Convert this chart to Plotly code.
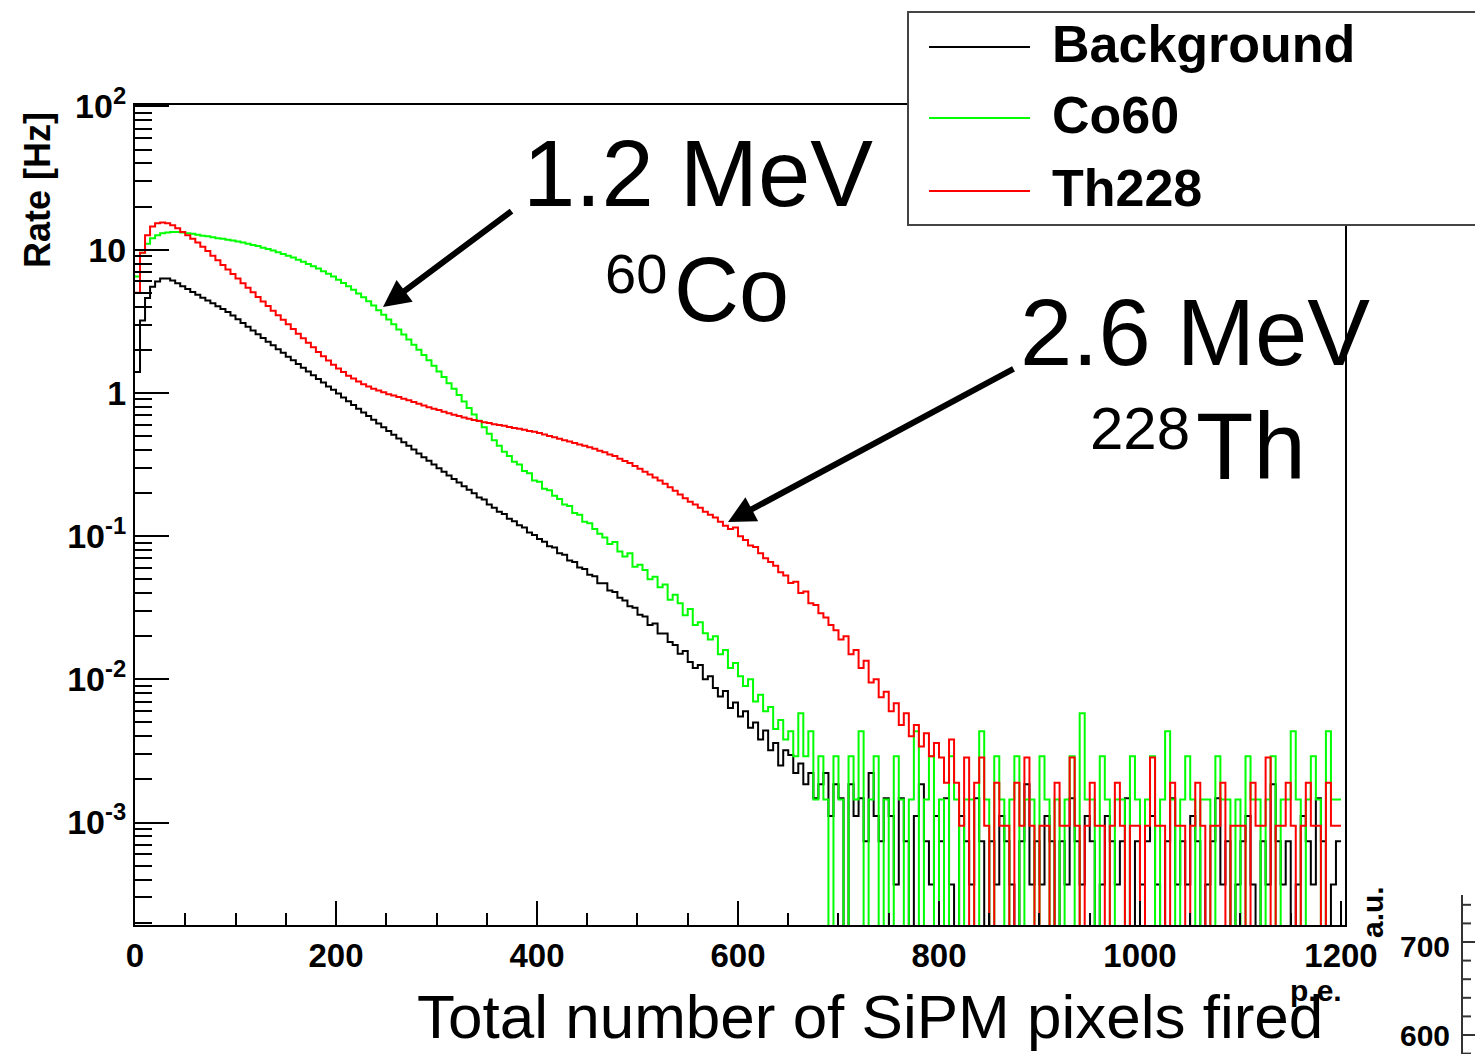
import numpy as np
import plotly.graph_objects as go

# ---------------- data ----------------
BIN_WIDTH = 5          # p.e. per bin
X_MIN, X_MAX = 0, 1200

# Background: rates [Hz] for bins 0..129 (0-650 p.e.)
bg_body = [
    1.4, 3.2, 4.6, 5.5, 6.0, 6.3, 6.3, 6.1, 5.82, 5.56,
    5.31, 5.07, 4.84, 4.62, 4.42, 4.22, 4.03, 3.85, 3.67, 3.47,
    3.27, 3.08, 2.90, 2.73, 2.57, 2.42, 2.28, 2.15, 2.02, 1.91,
    1.79, 1.69, 1.59, 1.50, 1.41, 1.33, 1.25, 1.18, 1.11, 1.05,
    0.99, 0.93, 0.875, 0.824, 0.776, 0.731, 0.689, 0.649, 0.611, 0.575,
    0.542, 0.511, 0.481, 0.453, 0.427, 0.402, 0.378, 0.356, 0.336, 0.316,
    0.298, 0.281, 0.265, 0.251, 0.237, 0.223, 0.211, 0.199, 0.186, 0.180,
    0.166, 0.158, 0.148, 0.143, 0.132, 0.127, 0.119, 0.115, 0.106, 0.102,
    0.0955, 0.0912, 0.0851, 0.0832, 0.0759, 0.0741, 0.0676, 0.0661, 0.0603, 0.0589,
    0.0537, 0.0525, 0.0468, 0.0468, 0.0417, 0.0407, 0.0372, 0.0355, 0.0324, 0.0316,
    0.0282, 0.0275, 0.0240, 0.0245, 0.0209, 0.0209, 0.0182, 0.0174, 0.0151, 0.0158,
    0.0132, 0.0120, 0.0126, 0.0100, 0.0105, 0.0087, 0.0076, 0.0083, 0.0063, 0.0069,
    0.0055, 0.0060, 0.0046, 0.0050, 0.0038, 0.0044, 0.0032, 0.0036, 0.0025, 0.0032,
]
# Background tail: counts per bin for bins 130..239 (650-1200 p.e.)
bg_tail_counts = [
    8, 6, 7, 5, 6, 4, 5, 6, 3, 5,
    4, 0, 5, 3, 4, 2, 6, 3, 2, 4,
    3, 1, 4, 2, 0, 3, 5, 2, 1, 3,
    2, 4, 1, 0, 3, 2, 1, 4, 2, 0,
    2, 1, 3, 2, 1, 0, 2, 5, 1, 2,
    1, 3, 2, 0, 2, 1, 4, 2, 1, 3,
    2, 0, 1, 3, 2, 1, 2, 4, 0, 2,
    1, 2, 3, 1, 0, 2, 4, 1, 2, 1,
    3, 2, 0, 1, 2, 4, 1, 2, 0, 1,
    2, 3, 1, 0, 2, 1, 5, 2, 1, 2,
    0, 1, 3, 2, 1, 4, 2, 0, 1, 2,
]
bg_unit = 3.7e-4   # Hz per count

# Co60: rates [Hz] for bins 0..129
co_body = [
    6.5, 9.5, 11.0, 12.0, 12.6, 13.0, 13.2, 13.3, 13.3, 13.2,
    13.0, 12.9, 12.7, 12.5, 12.4, 12.2, 12.0, 11.9, 11.75, 11.6,
    11.4, 11.2, 11.0, 10.8, 10.6, 10.3, 10.1, 9.85, 9.6, 9.33,
    9.08, 8.81, 8.51, 8.22, 7.94, 7.66, 7.38, 7.08, 6.79, 6.49,
    6.17, 5.86, 5.56, 5.25, 4.95, 4.66, 4.37, 4.07, 3.78, 3.51,
    3.25, 3.01, 2.77, 2.56, 2.36, 2.17, 2.0, 1.84, 1.69, 1.55,
    1.41, 1.29, 1.17, 1.07, 0.966, 0.871, 0.785, 0.708, 0.638, 0.575,
    0.519, 0.468, 0.427, 0.389, 0.363, 0.331, 0.316, 0.285, 0.275, 0.245,
    0.240, 0.214, 0.209, 0.191, 0.182, 0.166, 0.162, 0.145, 0.141, 0.126,
    0.123, 0.112, 0.104, 0.098, 0.088, 0.091, 0.078, 0.072, 0.076, 0.061,
    0.063, 0.058, 0.050, 0.052, 0.044, 0.046, 0.036, 0.039, 0.034, 0.028,
    0.031, 0.024, 0.025, 0.021, 0.019, 0.020, 0.015, 0.016, 0.012, 0.013,
    0.0105, 0.0090, 0.0100, 0.0070, 0.0078, 0.0060, 0.0064, 0.0045, 0.0052, 0.0038,
]
co_tail_counts = [
    3, 2, 4, 2, 3, 1, 2, 1, 0, 2,
    1, 0, 2, 1, 3, 0, 1, 2, 0, 1,
    0, 2, 1, 0, 1, 3, 0, 1, 2, 0,
    1, 0, 2, 1, 0, 1, 1, 0, 3, 1,
    0, 2, 1, 0, 1, 2, 0, 1, 1, 0,
    2, 1, 0, 1, 0, 1, 2, 0, 4, 1,
    1, 0, 2, 1, 0, 1, 1, 0, 2, 1,
    0, 1, 2, 0, 1, 3, 1, 0, 1, 2,
    1, 0, 1, 1, 0, 2, 1, 1, 0, 1,
    0, 2, 1, 1, 0, 1, 2, 0, 1, 1,
    3, 1, 0, 1, 2, 1, 0, 3, 1, 1,
]
co_unit = 1.45e-3

# Th228: rates [Hz] for bins 0..159 (0-800 p.e.)
th_body = [
    5.0, 9.5, 12.6, 14.5, 15.3, 15.5, 15.3, 14.8, 14.1, 13.3,
    12.6, 11.9, 11.2, 10.5, 9.77, 9.08, 8.43, 7.83, 7.28, 6.76,
    6.28, 5.83, 5.42, 5.04, 4.68, 4.35, 4.04, 3.75, 3.48, 3.24,
    3.01, 2.79, 2.59, 2.41, 2.24, 2.08, 1.93, 1.80, 1.68, 1.57,
    1.48, 1.40, 1.32, 1.26, 1.20, 1.15, 1.11, 1.07, 1.04, 1.01,
    0.98, 0.96, 0.938, 0.912, 0.887, 0.863, 0.839, 0.817, 0.794, 0.776,
    0.759, 0.738, 0.721, 0.705, 0.689, 0.673, 0.661, 0.646, 0.637, 0.624,
    0.617, 0.605, 0.596, 0.589, 0.578, 0.569, 0.562, 0.552, 0.543, 0.535,
    0.525, 0.513, 0.501, 0.490, 0.479, 0.468, 0.457, 0.447, 0.437, 0.427,
    0.417, 0.407, 0.394, 0.385, 0.372, 0.363, 0.347, 0.335, 0.324, 0.309,
    0.295, 0.282, 0.269, 0.257, 0.245, 0.232, 0.219, 0.207, 0.195, 0.184,
    0.174, 0.166, 0.158, 0.148, 0.141, 0.135, 0.126, 0.118, 0.112, 0.115,
    0.100, 0.094, 0.086, 0.084, 0.076, 0.070, 0.066, 0.062, 0.056, 0.053,
    0.047, 0.048, 0.040, 0.041, 0.034, 0.033, 0.029, 0.027, 0.024, 0.022,
    0.019, 0.020, 0.015, 0.016, 0.012, 0.0135, 0.0095, 0.010, 0.0075, 0.0082,
    0.0060, 0.0068, 0.0048, 0.0058, 0.0040, 0.0048, 0.0034, 0.0042, 0.0029, 0.0036,
]
th_tail_counts = [
    3, 2, 4, 2, 1, 3, 0, 2, 3, 1,
    0, 2, 1, 1, 0, 2, 1, 3, 1, 0,
    1, 1, 0, 2, 1, 1, 3, 1, 0, 1,
    2, 1, 1, 0, 1, 2, 1, 0, 1, 1,
    0, 1, 3, 1, 1, 0, 2, 1, 1, 0,
    1, 2, 1, 0, 1, 1, 2, 0, 1, 1,
    1, 0, 2, 1, 1, 3, 0, 1, 1, 2,
    1, 0, 1, 2, 1, 1, 0, 2, 1, 1,
]
th_unit = 9.5e-4

series_names = ["Background", "Co60", "Th228"]
series_colors = ["#000000", "#00ff00", "#ff0000"]

x_tick_vals = [0, 200, 400, 600, 800, 1000, 1200]
y_tick_vals = [1e-3, 1e-2, 1e-1, 1, 10, 100]
y_tick_text = ["10<sup>-3</sup>", "10<sup>-2</sup>", "10<sup>-1</sup>", "1", "10", "10<sup>2</sup>"]

# ---------------- build ----------------
edges = np.arange(X_MIN, X_MAX + BIN_WIDTH, BIN_WIDTH)
n_bins = len(edges) - 1

def full_rates(body, tail_counts, unit):
    r = list(body) + [c * unit for c in tail_counts]
    assert len(r) == n_bins, len(r)
    return r

rates = [
    full_rates(bg_body, bg_tail_counts, bg_unit),
    full_rates(co_body, co_tail_counts, co_unit),
    full_rates(th_body, th_tail_counts, th_unit),
]

FLOOR = 1e-7  # empty bins fall below the frame, like ROOT

fig = go.Figure()
for name, col, r in zip(series_names, series_colors, rates):
    y = [v if v > 0 else FLOOR for v in r]
    xs = list(edges[:-1]) + [edges[-1]]
    ys = y + [y[-1]]
    fig.add_trace(go.Scatter(x=xs, y=ys, mode="lines", name=name,
                             line=dict(color=col, width=2, shape="hv"),
                             showlegend=False))

W, H = 1475, 1054
L, R, T, B = 135, 130, 105, 129
PW, PH = W - L - R, H - T - B

def px(xp):
    return (xp - L) / PW

def py(yp):
    return (H - B - yp) / PH

FONT = "Liberation Sans, Arial, Helvetica, sans-serif"

minor_y = [m * 10.0 ** e for e in range(-4, 2) for m in range(2, 10)]

fig.update_layout(
    width=W, height=H, autosize=False,
    margin=dict(l=L, r=R, t=T, b=B),
    paper_bgcolor="white", plot_bgcolor="white",
    font=dict(family=FONT, color="black"),
    xaxis=dict(range=[0, 1204], tickmode="array", tickvals=x_tick_vals,
               ticks="inside", ticklen=24, tickwidth=2, tickcolor="black",
               showline=True, linecolor="black", linewidth=2, mirror=True,
               showgrid=False, zeroline=False,
               tickfont=dict(family=FONT, size=33, weight="bold"),
               minor=dict(tickmode="linear", tick0=0, dtick=50, ticks="inside",
                          ticklen=12, tickwidth=2, tickcolor="black", showgrid=False)),
    yaxis=dict(type="log", range=[-3.715, 2.01], tickmode="array",
               tickvals=y_tick_vals, ticktext=y_tick_text,
               ticks="inside", ticklen=34, tickwidth=2, tickcolor="black",
               showline=True, linecolor="black", linewidth=2, mirror=True,
               showgrid=False, zeroline=False,
               tickfont=dict(family=FONT, size=34, weight="bold"),
               minor=dict(tickmode="array", tickvals=minor_y, ticks="inside",
                          ticklen=17, tickwidth=2, tickcolor="black", showgrid=False)),
)

shapes = []
annotations = []

# legend box (manual, ROOT style)
shapes.append(dict(type="rect", xref="paper", yref="paper",
                   x0=px(908), x1=px(1490), y0=py(225), y1=py(12),
                   line=dict(color="#444444", width=2), fillcolor="white", layer="above"))
leg_rows = [47, 118, 191]
for name, col, yy in zip(series_names, series_colors, leg_rows):
    shapes.append(dict(type="line", xref="paper", yref="paper",
                       x0=px(929), x1=px(1030), y0=py(yy), y1=py(yy),
                       line=dict(color=col, width=2), layer="above"))
    annotations.append(dict(text=name, xref="paper", yref="paper",
                            x=px(1050), y=py(yy - 3), xanchor="left", yanchor="middle",
                            showarrow=False,
                            font=dict(family=FONT, size=52, weight="bold", color="black")))

# y-axis title
annotations.append(dict(text="Rate [Hz]", xref="paper", yref="paper",
                        x=px(37), y=py(190), xanchor="center", yanchor="middle",
                        textangle=-90, showarrow=False,
                        font=dict(family=FONT, size=36, weight="bold")))

# x-axis title
annotations.append(dict(text="Total number of SiPM pixels fired", xref="paper", yref="paper",
                        x=px(870), y=py(1016), xanchor="center", yanchor="middle",
                        showarrow=False, font=dict(family=FONT, size=62)))

# big labels
big = dict(family=FONT, size=94, color="black")
annotations.append(dict(text="1.2 MeV", xref="paper", yref="paper", x=px(698), y=py(174),
                        xanchor="center", yanchor="middle", showarrow=False, font=big))
annotations.append(dict(text="Co", xref="paper", yref="paper", x=px(672), y=py(290),
                        xanchor="left", yanchor="middle", showarrow=False, font=dict(family=FONT, size=90)))
annotations.append(dict(text="60", xref="paper", yref="paper", x=px(669), y=py(273),
                        xanchor="right", yanchor="middle", showarrow=False, font=dict(family=FONT, size=56)))
annotations.append(dict(text="2.6 MeV", xref="paper", yref="paper", x=px(1195), y=py(332),
                        xanchor="center", yanchor="middle", showarrow=False, font=big))
annotations.append(dict(text="Th", xref="paper", yref="paper", x=px(1194), y=py(446),
                        xanchor="left", yanchor="middle", showarrow=False, font=dict(family=FONT, size=94)))
annotations.append(dict(text="228", xref="paper", yref="paper", x=px(1192), y=py(428),
                        xanchor="right", yanchor="middle", showarrow=False, font=dict(family=FONT, size=60)))

# arrows
annotations.append(dict(text="", xref="paper", yref="paper", x=px(383), y=py(307),
                        ax=130, ay=-97, showarrow=True, arrowhead=2, arrowsize=0.9,
                        arrowwidth=6, arrowcolor="black", standoff=0))
annotations.append(dict(text="", xref="paper", yref="paper", x=px(728), y=py(522),
                        ax=287, ay=-154, showarrow=True, arrowhead=2, arrowsize=0.9,
                        arrowwidth=6, arrowcolor="black", standoff=0))

# bottom-right fragments of neighbouring panel
small_bold = dict(family=FONT, size=30, weight="bold", color="black")
annotations.append(dict(text="p.e.", xref="paper", yref="paper", x=px(1316), y=py(990),
                        xanchor="center", yanchor="middle", showarrow=False, font=small_bold))
annotations.append(dict(text="a.u.", xref="paper", yref="paper", x=px(1372), y=py(912),
                        xanchor="center", yanchor="middle", textangle=-90, showarrow=False, font=small_bold))
annotations.append(dict(text="700", xref="paper", yref="paper", x=px(1452), y=py(946),
                        xanchor="right", yanchor="middle", showarrow=False, font=small_bold))
annotations.append(dict(text="600", xref="paper", yref="paper", x=px(1452), y=py(1035),
                        xanchor="right", yanchor="middle", showarrow=False, font=small_bold))
shapes.append(dict(type="line", xref="paper", yref="paper", x0=px(1462), x1=px(1462),
                   y0=py(895), y1=py(1060), line=dict(color="#333333", width=2), layer="above"))
for k in range(-3, 10):
    yy = 942 + k * 18.6
    if yy < 897 or yy > 1054:
        continue
    major = (k % 5 == 0)
    shapes.append(dict(type="line", xref="paper", yref="paper", x0=px(1462),
                       x1=px(1462 + (16 if major else 9)), y0=py(yy), y1=py(yy),
                       line=dict(color="#333333", width=2), layer="above"))

fig.update_layout(shapes=shapes, annotations=annotations)

fig.write_html("out.html")
